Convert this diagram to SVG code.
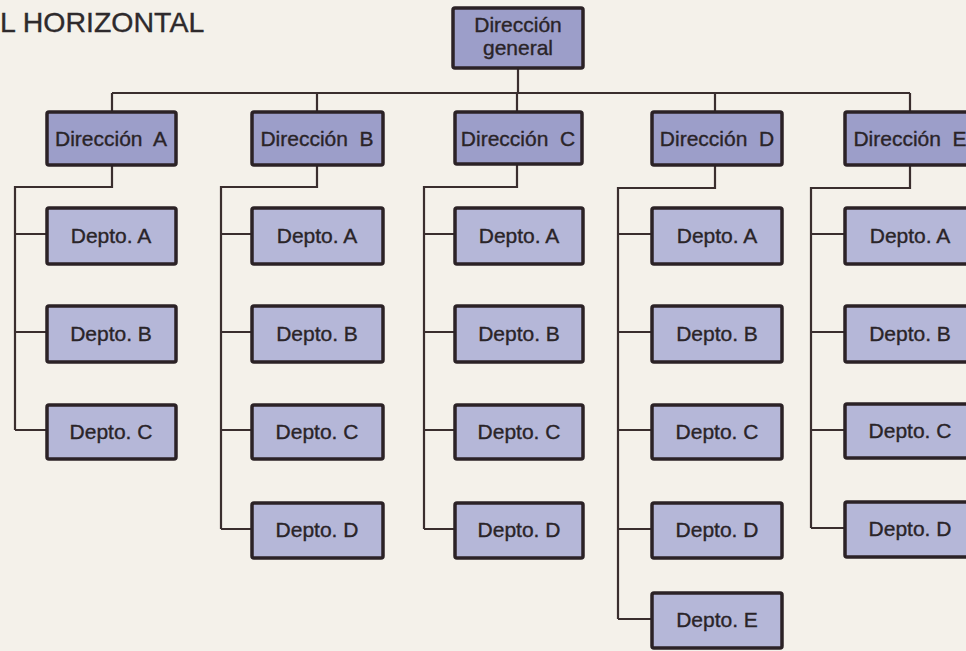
<svg xmlns="http://www.w3.org/2000/svg" width="966" height="651" viewBox="0 0 966 651">
<style>
text{font-family:"Liberation Sans",Arial,sans-serif;font-size:21px;fill:#2a2428;stroke:#2a2428;stroke-width:0.35;text-anchor:middle;white-space:pre}
.title{font-size:28.5px;text-anchor:start;fill:#2e2a2c;stroke:#2e2a2c}
.dir{fill:#9c9ec9;stroke:#2b2226;stroke-width:3.5}
.dep{fill:#b5b7d8;stroke:#2b2226;stroke-width:3.5}
#connectors path{fill:none;stroke:#3a2e2e;stroke-width:2.2}
</style>
<rect width="966" height="651" fill="#f4f1ea"/>
<text class="title" x="0" y="32">L HORIZONTAL</text>
<g id="connectors">
<path d="M518 68V93M112 93H910M112 93V112M317 93V112M517 93V112M715 93V112M910 93V112"/>
<path d="M112 165V187H15V430M15 234H47M15 332H47M15 430H47"/>
<path d="M317 165V187H221V529M221 234H252M221 332H252M221 430H252M221 529H252"/>
<path d="M517 165V187H424V529M424 234H454M424 332H454M424 430H454M424 529H454"/>
<path d="M715 165V188H618V619M618 234H652M618 332H652M618 430H652M618 529H652M618 619H652"/>
<path d="M910 165V188H811V528M811 234H845M811 332H845M811 430H845M811 528H845"/>
</g>
<g id="dir-general"><rect class="dir" x="453" y="8" width="130" height="60" rx="2"/><text x="518" y="32">Dirección</text><text x="518" y="55">general</text></g>
<g id="dir-a"><rect class="dir" x="47" y="112" width="129" height="53" rx="2"/><text x="111" y="146" xml:space="preserve">Dirección  A</text></g>
<g id="dir-b"><rect class="dir" x="252" y="112" width="131" height="53" rx="2"/><text x="317" y="146" xml:space="preserve">Dirección  B</text></g>
<g id="dir-c"><rect class="dir" x="455" y="112" width="127" height="52" rx="2"/><text x="518" y="146" xml:space="preserve">Dirección  C</text></g>
<g id="dir-d"><rect class="dir" x="652" y="112" width="130" height="53" rx="2"/><text x="717" y="146" xml:space="preserve">Dirección  D</text></g>
<g id="dir-e"><rect class="dir" x="845" y="112" width="130" height="53" rx="2"/><text x="910" y="146" xml:space="preserve">Dirección  E</text></g>

<g id="a-depto-a"><rect class="dep" x="47" y="208" width="129" height="56" rx="2"/><text x="111" y="243">Depto. A</text></g>
<g id="a-depto-b"><rect class="dep" x="47" y="306" width="129" height="56" rx="2"/><text x="111" y="341">Depto. B</text></g>
<g id="a-depto-c"><rect class="dep" x="47" y="405" width="129" height="54" rx="2"/><text x="111" y="439">Depto. C</text></g>

<g id="b-depto-a"><rect class="dep" x="252" y="208" width="131" height="56" rx="2"/><text x="317" y="243">Depto. A</text></g>
<g id="b-depto-b"><rect class="dep" x="252" y="306" width="131" height="56" rx="2"/><text x="317" y="341">Depto. B</text></g>
<g id="b-depto-c"><rect class="dep" x="252" y="405" width="131" height="54" rx="2"/><text x="317" y="439">Depto. C</text></g>
<g id="b-depto-d"><rect class="dep" x="252" y="503" width="131" height="55" rx="2"/><text x="317" y="537">Depto. D</text></g>

<g id="c-depto-a"><rect class="dep" x="455" y="208" width="128" height="56" rx="2"/><text x="519" y="243">Depto. A</text></g>
<g id="c-depto-b"><rect class="dep" x="455" y="306" width="128" height="56" rx="2"/><text x="519" y="341">Depto. B</text></g>
<g id="c-depto-c"><rect class="dep" x="455" y="405" width="128" height="54" rx="2"/><text x="519" y="439">Depto. C</text></g>
<g id="c-depto-d"><rect class="dep" x="455" y="503" width="128" height="55" rx="2"/><text x="519" y="537">Depto. D</text></g>

<g id="d-depto-a"><rect class="dep" x="652" y="208" width="130" height="56" rx="2"/><text x="717" y="243">Depto. A</text></g>
<g id="d-depto-b"><rect class="dep" x="652" y="306" width="130" height="56" rx="2"/><text x="717" y="341">Depto. B</text></g>
<g id="d-depto-c"><rect class="dep" x="652" y="405" width="130" height="54" rx="2"/><text x="717" y="439">Depto. C</text></g>
<g id="d-depto-d"><rect class="dep" x="652" y="503" width="130" height="55" rx="2"/><text x="717" y="537">Depto. D</text></g>
<g id="d-depto-e"><rect class="dep" x="652" y="593" width="130" height="55" rx="2"/><text x="717" y="627">Depto. E</text></g>

<g id="e-depto-a"><rect class="dep" x="845" y="208" width="130" height="56" rx="2"/><text x="910" y="243">Depto. A</text></g>
<g id="e-depto-b"><rect class="dep" x="845" y="306" width="130" height="56" rx="2"/><text x="910" y="341">Depto. B</text></g>
<g id="e-depto-c"><rect class="dep" x="845" y="404" width="130" height="54" rx="2"/><text x="910" y="438">Depto. C</text></g>
<g id="e-depto-d"><rect class="dep" x="845" y="502" width="130" height="55" rx="2"/><text x="910" y="536">Depto. D</text></g>
</svg>
